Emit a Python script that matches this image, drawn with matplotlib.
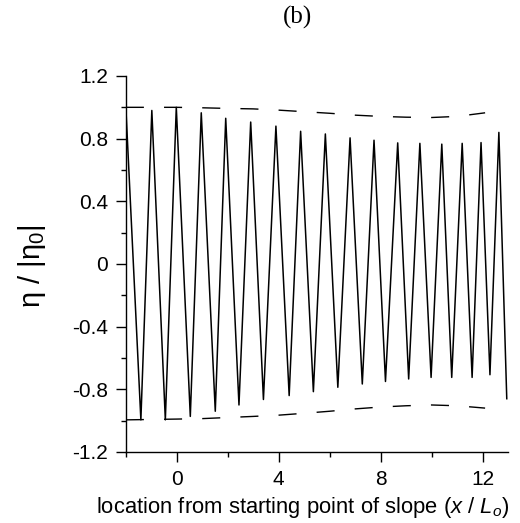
import matplotlib
matplotlib.use("Agg")
import matplotlib.pyplot as plt
from matplotlib.ticker import MultipleLocator, FixedLocator

plt.rcParams['font.family'] = ['Liberation Sans', 'DejaVu Sans']
plt.rcParams['mathtext.fontset'] = 'custom'
plt.rcParams['mathtext.rm'] = 'Liberation Sans'
plt.rcParams['mathtext.it'] = 'Liberation Sans:italic'
plt.rcParams['lines.scale_dashes'] = False

# wave: start point, then alternating troughs / crests, then end point
x_start, eta_start = -2.0, 1.0
x_trough = [-1.41, -0.45, 0.53, 1.51, 2.44, 3.40, 4.41, 5.36, 6.32, 7.28,
            8.19, 9.10, 9.98, 10.79, 11.59, 12.29]
eta_trough = [-0.995, -0.995, -0.973, -0.94, -0.90, -0.865, -0.84, -0.815,
              -0.787, -0.766, -0.75, -0.734, -0.724, -0.724, -0.724, -0.707]
x_crest = [-0.98, -0.02, 0.96, 1.92, 2.90, 3.89, 4.86, 5.83, 6.80, 7.74,
           8.67, 9.54, 10.40, 11.20, 11.94, 12.64]
eta_crest = [0.98, 1.0, 0.965, 0.93, 0.906, 0.88, 0.847, 0.83, 0.805, 0.79,
             0.773, 0.77, 0.765, 0.77, 0.775, 0.84]
x_end, eta_end = 12.95, -0.86

# envelope (dashed)
x_env = [-2, 0, 1, 2, 3, 4, 5, 6, 7, 8, 9, 10, 11, 12.1]
env_upper = [1.0, 1.0, 0.997, 0.993, 0.99, 0.982, 0.972, 0.962, 0.95, 0.942,
             0.937, 0.935, 0.942, 0.965]
env_lower = [-0.995, -0.99, -0.987, -0.98, -0.973, -0.965, -0.953, -0.94,
             -0.925, -0.913, -0.905, -0.90, -0.905, -0.92]

xs = [x_start]
ys = [eta_start]
for xt, yt, xc, yc in zip(x_trough, eta_trough, x_crest, eta_crest):
    xs += [xt, xc]
    ys += [yt, yc]
xs.append(x_end)
ys.append(eta_end)

fig = plt.figure(figsize=(5.2, 5.23), dpi=100)
ax = fig.add_axes([0.242, 0.1358, 0.735, 0.7189])

ax.plot(xs, ys, color='black', lw=1.1)
ax.plot(x_env, env_upper, color='black', lw=1.0, linestyle=(0, (13, 14.5)))
ax.plot(x_env, env_lower, color='black', lw=1.0, linestyle=(0, (13, 14.5)))

ax.set_xlim(-2, 13)
ax.set_ylim(-1.2, 1.2)
ax.xaxis.set_major_locator(FixedLocator([0, 4, 8, 12]))
ax.xaxis.set_minor_locator(FixedLocator([-2, 2, 6, 10]))
ax.yaxis.set_major_locator(MultipleLocator(0.4))
ax.yaxis.set_minor_locator(MultipleLocator(0.2))
ax.yaxis.set_major_formatter(plt.FuncFormatter(lambda v, p: '0' if abs(v) < 1e-9 else f'{v:.1f}'))

for s in ['top', 'right']:
    ax.spines[s].set_visible(False)
for s in ['left', 'bottom']:
    ax.spines[s].set_linewidth(1.0)
ax.tick_params(which='major', direction='out', length=7, width=1.0,
               labelsize=15, pad=6)
ax.tick_params(which='minor', direction='out', length=3.5, width=1.0)

fig.text(297 / 520, 1 - 17 / 523, '(b)', family='Liberation Serif',
         fontsize=18, ha='center', va='center')
fig.text(303 / 520, 1 - 507 / 523,
         'location from starting point of slope ($x$ / $L_o$)',
         fontsize=15.8, ha='center', va='center')
fig.text(32 / 520, 1 - 266 / 523, 'η / |η$_0$|', fontsize=21,
         rotation=90, ha='center', va='center')

fig.savefig('out.png', dpi=100)
